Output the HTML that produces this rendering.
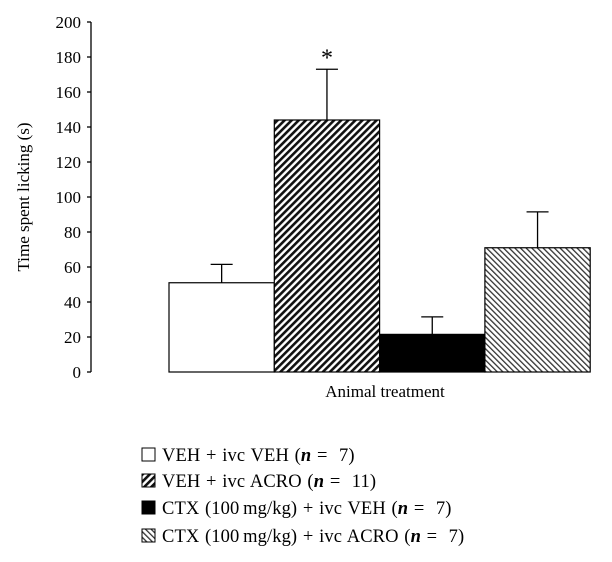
<!DOCTYPE html>
<html><head><meta charset="utf-8"><style>
body{margin:0;background:#fff}
svg{display:block;font-family:"Liberation Serif",serif}
</style></head><body>
<svg id="c" width="612" height="562" viewBox="0 0 612 562">
<defs>
<pattern id="p1" width="5" height="5" patternUnits="userSpaceOnUse" patternTransform="rotate(45)">
<rect width="5" height="5" fill="#fff"/><rect width="2.6" height="5" fill="#111"/></pattern>
<pattern id="p2" width="4" height="4" patternUnits="userSpaceOnUse" patternTransform="rotate(-45)">
<rect width="4" height="4" fill="#fff"/><rect width="1.3" height="4" fill="#333"/></pattern>
</defs>
<g id="axes"></g><g id="bars"></g><g id="legend"></g>
</svg>
<script>
const categories=["VEH + ivc VEH","VEH + ivc ACRO","CTX + ivc VEH","CTX + ivc ACRO"];
const values=[51,144,21.5,71];
const errors=[10.5,29,10,20.5];
const ticks=[0,20,40,60,80,100,120,140,160,180,200];
const fills=["#fff","url(#p1)","#000","url(#p2)"];
const NS="http://www.w3.org/2000/svg";
function mk(t,a,p,txt){const e=document.createElementNS(NS,t);for(const k in a)e.setAttribute(k,a[k]);if(txt!==undefined)e.textContent=txt;p.appendChild(e);return e;}
const y=v=>372-v*1.75;
const x0=169,bw=105.3;
const xb=i=>x0+i*bw;
const ax=document.getElementById('axes');
const yl=mk('line',{x1:91,x2:91,y1:y(0),y2:y(200),stroke:'#000','stroke-width':1.3},ax);


ticks.forEach(t=>{
 const l=mk('line',{x1:87,x2:91,y1:y(t),y2:y(t),stroke:'#000','stroke-width':1.3},ax);
 
 
 const tx=mk('text',{x:81,y:y(t)+6,'text-anchor':'end','font-size':17},ax,String(t));
 
 
});
const yt=mk('text',{x:0,y:0,transform:'translate(29,197) rotate(-90)','text-anchor':'middle','font-size':17},ax,'Time spent licking (s)');


const xt=mk('text',{x:385,y:397,'text-anchor':'middle','font-size':17},ax,'Animal treatment');


const bg=document.getElementById('bars');
values.forEach((v,i)=>{
 const cx=xb(i)+bw/2;
 const el=mk('line',{x1:cx,x2:cx,y1:y(v),y2:y(v+errors[i]),stroke:'#000','stroke-width':1.3},bg);
 
 
 const ec=mk('line',{x1:cx-11,x2:cx+11,y1:y(v+errors[i]),y2:y(v+errors[i]),stroke:'#000','stroke-width':1.3},bg);
 
 
 const r=mk('rect',{x:xb(i),y:y(v),width:bw,height:y(0)-y(v),fill:fills[i],stroke:'#000','stroke-width':1.2},bg);
 
 
});
const st=mk('text',{x:xb(1)+bw/2,y:y(values[1]+errors[1])-4,'text-anchor':'middle','font-size':24},bg,'*');


const lg=document.getElementById('legend');
const labels=[['VEH + ivc VEH (','7)'],['VEH + ivc ACRO (','11)'],['CTX (100\u2009mg/kg) + ivc VEH (','7)'],['CTX (100\u2009mg/kg) + ivc ACRO (','7)']];
const ly=[455,481,508,536];
labels.forEach((l,i)=>{
 const b=mk('rect',{x:142,y:ly[i]-7,width:13,height:13,fill:fills[i],stroke:'#000','stroke-width':1},lg);
 
 
 const t=mk('text',{x:162,y:ly[i]+6,'font-size':18.5,'letter-spacing':0.1,'word-spacing':1},lg);
 
 
 t.appendChild(document.createTextNode(l[0]));
 mk('tspan',{'font-style':'italic','font-weight':'bold'},t,'n');
 t.appendChild(document.createTextNode(' =\u00a0 '+l[1]));
});
</script>
</body></html>
